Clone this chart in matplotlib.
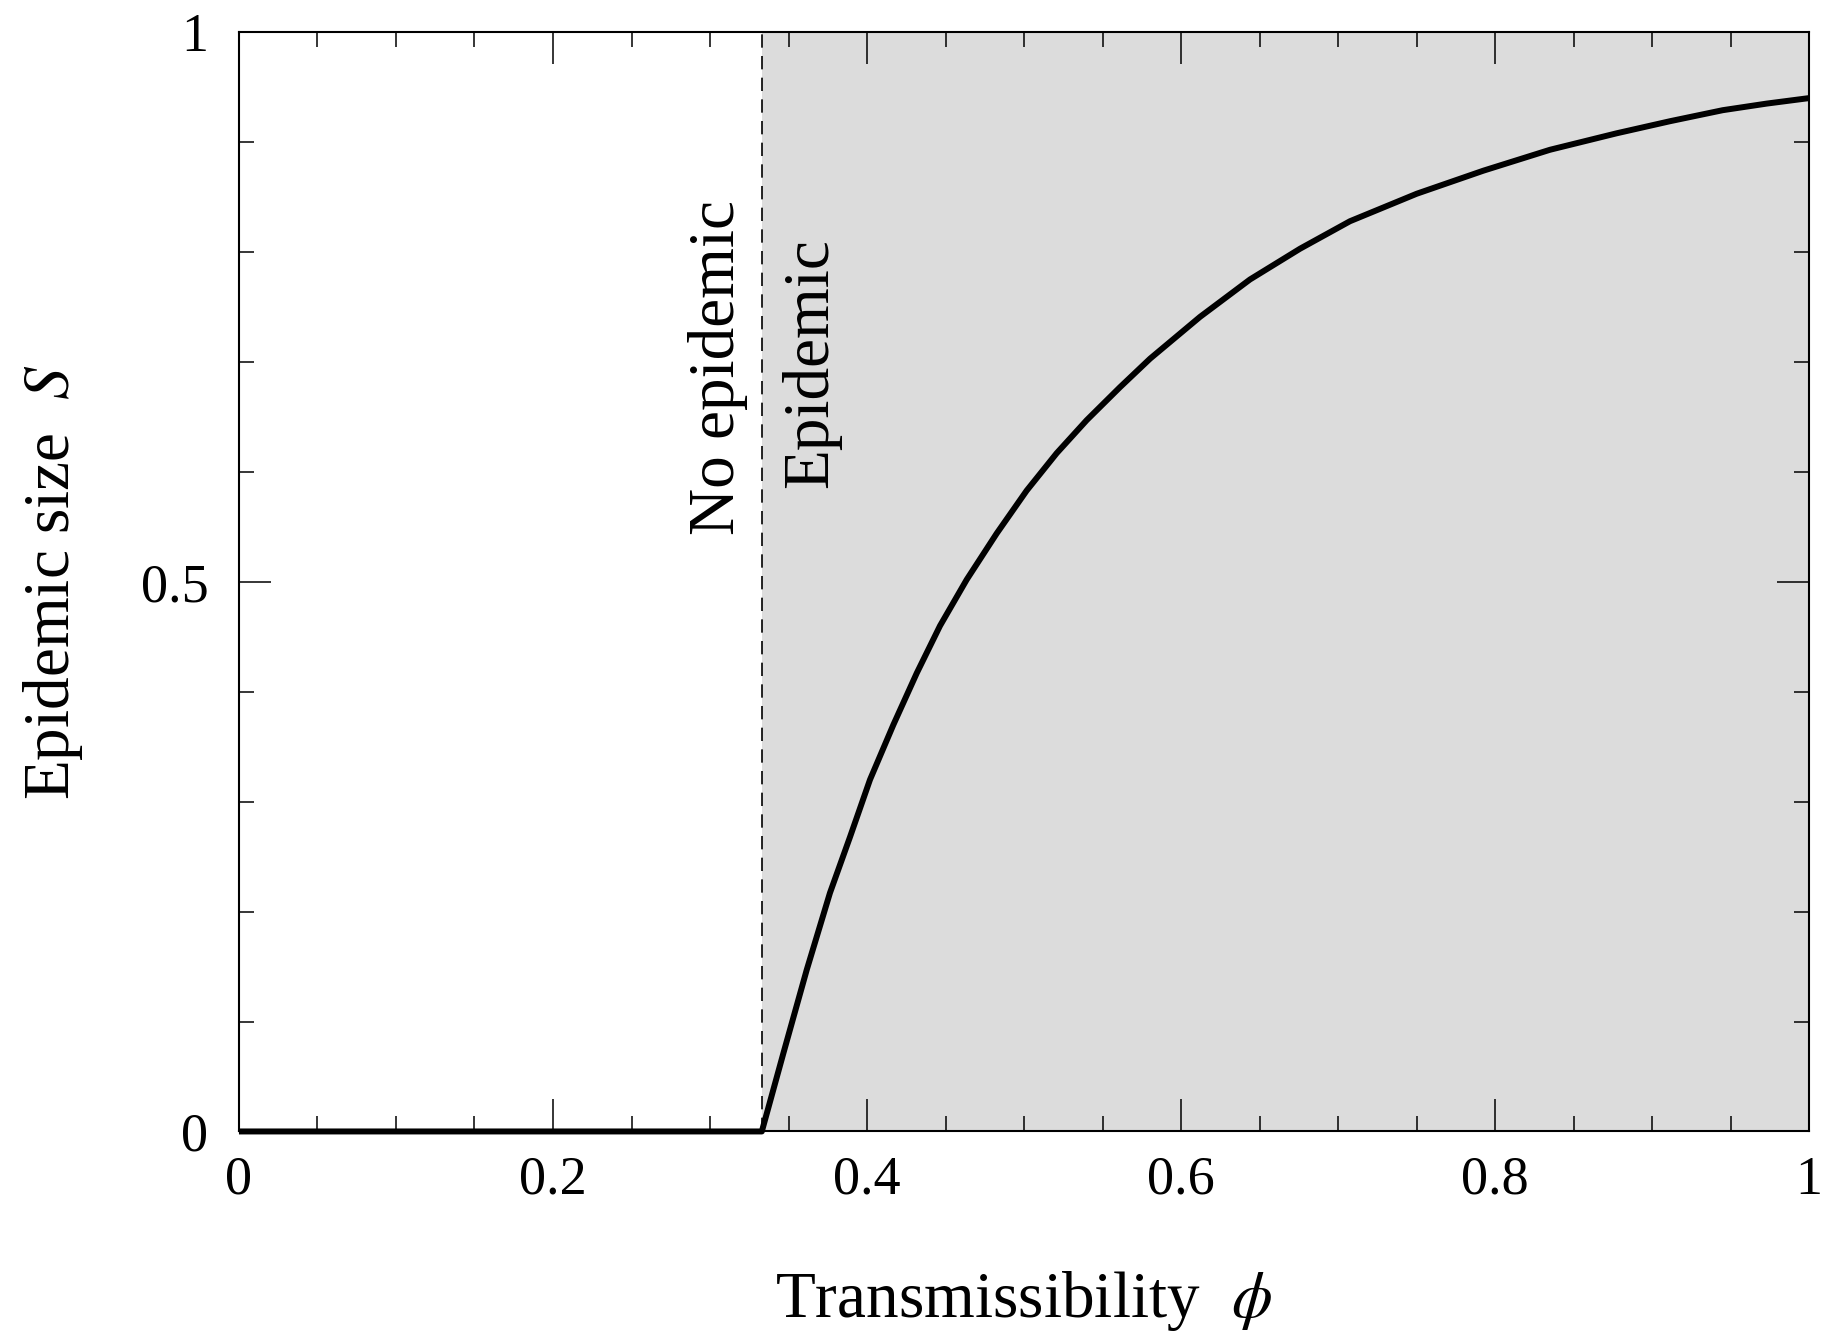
import numpy as np
import matplotlib
matplotlib.use('Agg')
import matplotlib.pyplot as plt
from matplotlib.ticker import MultipleLocator, FixedLocator

# values
phi = [0.0, 0.333, 0.3467, 0.3616, 0.3764, 0.3892, 0.4019, 0.4168, 0.4317,
       0.4465, 0.4635, 0.4826, 0.5017, 0.5208, 0.5399, 0.5611, 0.5803,
       0.6121, 0.6439, 0.6758, 0.7076, 0.7501, 0.7926, 0.8350, 0.8775,
       0.9115, 0.9450, 0.9730, 1.0]
size_S = [0.0, 0.0, 0.071, 0.147, 0.217, 0.268, 0.320, 0.370, 0.417,
          0.460, 0.502, 0.544, 0.583, 0.617, 0.647, 0.677, 0.703,
          0.741, 0.775, 0.803, 0.828, 0.853, 0.874, 0.893, 0.908,
          0.919, 0.929, 0.935, 0.940]
threshold = 0.333

x_ticks = [0, 0.2, 0.4, 0.6, 0.8, 1]
x_ticklabels = ['0', '0.2', '0.4', '0.6', '0.8', '1']
y_ticks = [0, 0.5, 1]
y_ticklabels = ['0', '0.5', '1']

SHADE = '#dcdcdc'
TICK_FS = 39
LABEL_FS = 47

plt.rcParams['font.family'] = ['Liberation Serif', 'DejaVu Serif']
plt.rcParams['mathtext.fontset'] = 'stix'

fig = plt.figure(figsize=(18.27, 13.39), dpi=100)
ax = fig.add_axes([0.1308, 0.155, 0.8594, 0.821])

# epidemic region
ax.axvspan(threshold, 1.0, color=SHADE, lw=0, zorder=0)
ax.axvline(threshold, color='black', lw=1.2, linestyle=(0, (8, 5)), zorder=2)

ax.plot(phi, size_S, color='black', lw=4.3, solid_capstyle='butt',
        solid_joinstyle='round', clip_on=False, zorder=3)

ax.text(0.3048, 0.695, 'No epidemic', rotation=90, fontsize=LABEL_FS,
        ha='center', va='center')
ax.text(0.3643, 0.699, 'Epidemic', rotation=90, fontsize=LABEL_FS,
        ha='center', va='center')

ax.set_xlim(0, 1)
ax.set_ylim(0, 1)
ax.xaxis.set_major_locator(FixedLocator(x_ticks))
ax.set_xticklabels(x_ticklabels)
ax.yaxis.set_major_locator(FixedLocator(y_ticks))
ax.set_yticklabels(y_ticklabels)
ax.xaxis.set_minor_locator(MultipleLocator(0.05))
ax.yaxis.set_minor_locator(MultipleLocator(0.1))

ax.tick_params(which='both', direction='in', top=True, right=True, width=1.1)
ax.tick_params(which='major', length=23)
ax.tick_params(which='minor', length=11)
ax.tick_params(axis='x', which='major', pad=17, labelsize=TICK_FS)
ax.tick_params(axis='y', which='major', pad=22, labelsize=TICK_FS)
for sp in ax.spines.values():
    sp.set_linewidth(1.5)

ax.set_xlabel(r'Transmissibility  $\phi$', fontsize=LABEL_FS, labelpad=46)
ax.set_ylabel(r'Epidemic size  $S$', fontsize=LABEL_FS, labelpad=40)

fig.savefig('out.png', dpi=100)
